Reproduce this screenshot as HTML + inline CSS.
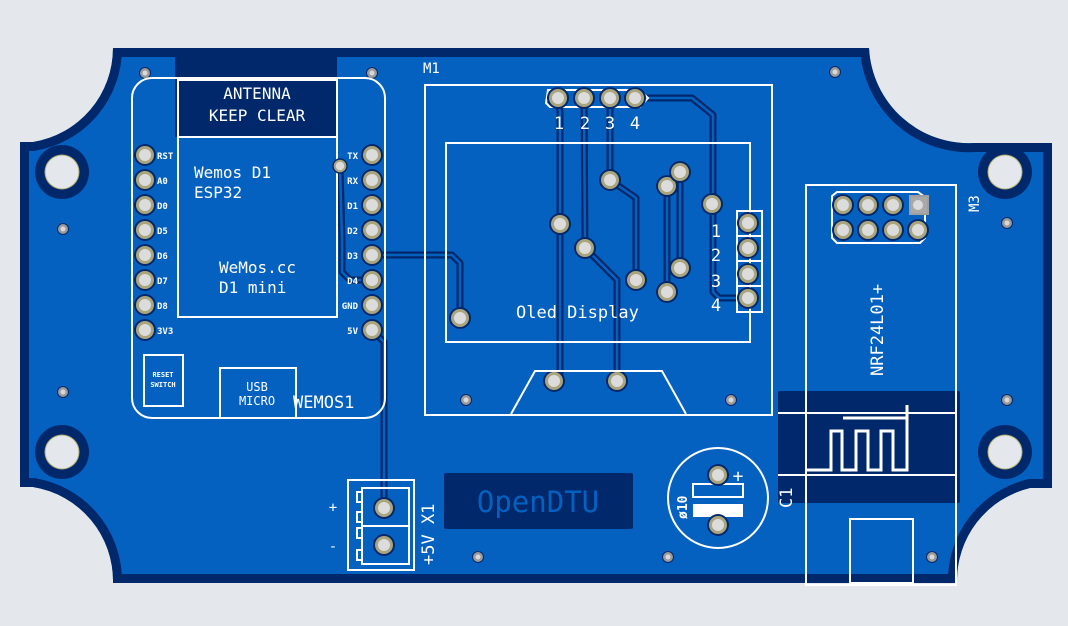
<!DOCTYPE html>
<html><head><meta charset="utf-8"><style>
html,body{margin:0;padding:0;background:#e4e7ec;}
svg{display:block;}
text{font-family:"DejaVu Sans Mono","Liberation Mono",monospace;fill:#fff;}
</style></head><body>
<svg width="1068" height="626" viewBox="0 0 1068 626" xmlns="http://www.w3.org/2000/svg">
<defs>
<path id="brd" d="M113,48 L869,48 A100,100 0 0 0 975,143 L1052,143 L1052,488 L1030,488 A95,95 0 0 0 957,583 L113,583 A95,95 0 0 0 33,487 L20,487 L20,142 L33,142 A95,95 0 0 0 113,48 Z"/>
<clipPath id="bc"><use href="#brd"/></clipPath>
<g id="pad"><circle r="11" fill="#00286a"/><circle r="9" fill="#aaa57c"/><circle r="6" fill="#dcdcdc"/></g>
<g id="via"><circle r="6" fill="#00286a"/><circle r="5" fill="#9a9a9a"/><circle r="2.5" fill="#d8d8d8"/></g>
<g id="hole"><circle r="27" fill="#00286a"/><circle r="17.5" fill="#b8b070"/><circle r="16.5" fill="#e4e7ec"/></g>
</defs>
<rect width="1068" height="626" fill="#e4e7ec"/>
<use href="#brd" fill="#0561c0"/>
<use href="#brd" fill="none" stroke="#00286a" stroke-width="18" clip-path="url(#bc)"/>
<rect x="175" y="55" width="162" height="82" fill="#00286a"/>
<rect x="778" y="391" width="182" height="112" rx="2" fill="#00286a"/>
<rect x="444" y="473" width="189" height="56" rx="2" fill="#00286a"/>
<text x="538" y="512" font-size="29" text-anchor="middle" style="fill:#0561c0" font-family="DejaVu Sans Mono">OpenDTU</text>
<use href="#hole" x="62" y="172"/><use href="#hole" x="62" y="452"/>
<use href="#hole" x="1005" y="172"/><use href="#hole" x="1005" y="452"/>
<g fill="none" stroke="#00286a" stroke-width="7" stroke-linejoin="round">
<path d="M372,255 L452,255 L460,263 L460,318"/>
<path d="M372,330 L384,342 L384,508"/>
<path d="M558,98 L560,112 L560,381 L554,385"/>
<path d="M584,98 L585,248 L617,280 L617,381"/>
<path d="M610,98 L610,180 L636,198 L636,280"/>
<path d="M635,98 L692,98 L713,115 L713,292 L719,298 L748,298"/>
<path d="M667,186 L667,292"/><path d="M680,172 L680,268"/>
<path d="M340,166 L342,240 L342,272 L350,280 L372,280"/>
</g>
<g fill="none" stroke="#0561c0" stroke-width="2.5" stroke-linejoin="round">
<path d="M372,255 L452,255 L460,263 L460,318"/>
<path d="M372,330 L384,342 L384,508"/>
<path d="M558,98 L560,112 L560,381 L554,385"/>
<path d="M584,98 L585,248 L617,280 L617,381"/>
<path d="M610,98 L610,180 L636,198 L636,280"/>
<path d="M635,98 L692,98 L713,115 L713,292 L719,298 L748,298"/>
<path d="M667,186 L667,292"/><path d="M680,172 L680,268"/>
<path d="M340,166 L342,240 L342,272 L350,280 L372,280"/>
</g>
<g>
<use href="#via" x="145" y="73"/><use href="#via" x="372" y="73"/>
<use href="#via" x="63" y="229"/><use href="#via" x="63" y="392"/>
<use href="#via" x="835" y="72"/><use href="#via" x="1007" y="223"/>
<use href="#via" x="1007" y="400"/><use href="#via" x="466" y="400"/>
<use href="#via" x="731" y="400"/><use href="#via" x="668" y="557"/>
<use href="#via" x="932" y="557"/><use href="#via" x="478" y="557"/>
<use href="#pad" x="460" y="318"/>
</g>
<g>
<use href="#pad" x="560" y="224"/><use href="#pad" x="554" y="381"/>
<use href="#pad" x="585" y="248"/><use href="#pad" x="617" y="381"/>
<use href="#pad" x="610" y="180"/><use href="#pad" x="636" y="280"/>
<use href="#pad" x="712" y="204"/>
<use href="#pad" x="667" y="186"/><use href="#pad" x="667" y="292"/>
<use href="#pad" x="680" y="172"/><use href="#pad" x="680" y="268"/>
</g>
<g fill="none" stroke="#fff" stroke-width="2">
<rect x="132" y="78" width="253" height="340" rx="20"/>
<rect x="178" y="80" width="159" height="57"/>
<rect x="178" y="137" width="159" height="180"/>
<rect x="144" y="355" width="39" height="51"/>
<rect x="220" y="368" width="76" height="50"/>
</g>
<g transform="translate(340,166) scale(0.7)"><use href="#pad"/></g>
<text x="257" y="99" font-size="16" text-anchor="middle" font-family="Liberation Sans">ANTENNA</text>
<text x="257" y="121" font-size="16" text-anchor="middle" font-family="Liberation Sans">KEEP CLEAR</text>
<text x="194" y="178" font-size="16">Wemos D1</text>
<text x="194" y="198" font-size="16">ESP32</text>
<text x="219" y="273" font-size="16">WeMos.cc</text>
<text x="219" y="293" font-size="16">D1 mini</text>
<text x="163" y="377" font-size="7" text-anchor="middle" font-weight="bold" font-family="Liberation Sans">RESET</text>
<text x="163" y="387" font-size="7" text-anchor="middle" font-weight="bold" font-family="Liberation Sans">SWITCH</text>
<text x="257" y="391" font-size="12" text-anchor="middle" font-family="Liberation Sans">USB</text>
<text x="257" y="405" font-size="12" text-anchor="middle" font-family="Liberation Sans">MICRO</text>
<text x="293" y="408" font-size="17" font-family="Liberation Sans">WEMOS1</text>
<g font-size="9" font-weight="bold" font-family="Liberation Sans">
<text x="157" y="159">RST</text><text x="157" y="184">A0</text><text x="157" y="209">D0</text><text x="157" y="234">D5</text>
<text x="157" y="259">D6</text><text x="157" y="284">D7</text><text x="157" y="309">D8</text><text x="157" y="334">3V3</text>
<text x="358" y="159" text-anchor="end">TX</text><text x="358" y="184" text-anchor="end">RX</text><text x="358" y="209" text-anchor="end">D1</text><text x="358" y="234" text-anchor="end">D2</text>
<text x="358" y="259" text-anchor="end">D3</text><text x="358" y="284" text-anchor="end">D4</text><text x="358" y="309" text-anchor="end">GND</text><text x="358" y="334" text-anchor="end">5V</text>
</g>
<g>
<use href="#pad" x="145" y="155"/><use href="#pad" x="145" y="180"/><use href="#pad" x="145" y="205"/><use href="#pad" x="145" y="230"/>
<use href="#pad" x="145" y="255"/><use href="#pad" x="145" y="280"/><use href="#pad" x="145" y="305"/><use href="#pad" x="145" y="330"/>
<use href="#pad" x="372" y="155"/><use href="#pad" x="372" y="180"/><use href="#pad" x="372" y="205"/><use href="#pad" x="372" y="230"/>
<use href="#pad" x="372" y="255"/><use href="#pad" x="372" y="280"/><use href="#pad" x="372" y="305"/><use href="#pad" x="372" y="330"/>
</g>
<g fill="none" stroke="#fff" stroke-width="2">
<rect x="425" y="85" width="347" height="330"/>
<rect x="446" y="143" width="304" height="199"/>
<path d="M511,414 L535,371 L662,371 L686,414"/>
<rect x="737" y="211" width="25" height="101"/>
<path d="M737,236 H762 M737,261 H762 M737,286 H762"/>
<path d="M548,90 L640,90 L648,98 L640,107 L550,107 L546,103 Z"/>
</g>
<use href="#pad" x="558" y="98"/><use href="#pad" x="584" y="98"/><use href="#pad" x="610" y="98"/><use href="#pad" x="635" y="98"/>
<use href="#pad" x="748" y="223"/><use href="#pad" x="748" y="248"/><use href="#pad" x="748" y="274"/><use href="#pad" x="748" y="298"/>
<text x="423" y="73" font-size="14" font-family="Liberation Sans">M1</text>
<g font-size="17" font-family="Liberation Sans" text-anchor="middle">
<text x="559" y="129">1</text><text x="585" y="129">2</text><text x="610" y="129">3</text><text x="635" y="129">4</text>
<text x="716" y="237">1</text><text x="716" y="261">2</text><text x="716" y="287">3</text><text x="716" y="311">4</text>
</g>
<text x="516" y="318" font-size="17">Oled Display</text>
<g fill="none" stroke="#fff" stroke-width="2">
<rect x="806" y="185" width="150" height="400"/>
<path d="M778,413 H956 M778,475 H956"/>
<path d="M805,470 L831,470 L831,431 L842,431 L842,470 L856,470 L856,431 L868,431 L868,470 L881,470 L881,431 L893,431 L893,470 L907,470 L907,405 M843,418 L906,418" stroke-width="3"/>
<rect x="850" y="519" width="63" height="64"/>
<path d="M832,196 L837,192 L918,192 L925,197 L925,238 L920,243 L837,243 L832,238 Z"/>
</g>
<g>
<use href="#pad" x="843" y="205"/><use href="#pad" x="868" y="205"/><use href="#pad" x="893" y="205"/>
<rect x="909" y="195" width="20" height="20" fill="#9f9f9f"/><rect x="911" y="197" width="16" height="16" fill="#a9a9a9"/><circle cx="918" cy="205" r="5" fill="#dcdcdc"/>
<use href="#pad" x="843" y="230"/><use href="#pad" x="868" y="230"/><use href="#pad" x="893" y="230"/><use href="#pad" x="918" y="230"/>
</g>
<text transform="translate(883,376) rotate(-90)" font-size="17" font-family="Liberation Sans">NRF24L01+</text>
<text transform="translate(979,212) rotate(-90)" font-size="14" font-family="Liberation Sans">M3</text>
<circle cx="718" cy="498" r="50" fill="none" stroke="#fff" stroke-width="2"/>
<rect x="693" y="484" width="50" height="13" fill="none" stroke="#fff" stroke-width="2"/>
<rect x="693" y="504" width="50" height="13" fill="#fff"/>
<use href="#pad" x="718" y="475"/><use href="#pad" x="718" y="525"/>
<text x="738" y="482" font-size="18" text-anchor="middle" font-family="Liberation Sans">+</text>
<text transform="translate(687,519) rotate(-90)" font-size="13" font-weight="bold">ø10</text>
<text transform="translate(792,508) rotate(-90)" font-size="17" font-family="Liberation Sans">C1</text>
<g fill="none" stroke="#fff" stroke-width="2">
<rect x="348" y="480" width="66" height="90"/>
<path d="M362,488 L409,488 L409,526 L362,526 Z M362,526 L409,526 L409,564 L362,564 Z"/>
<path d="M362,492 h-5 v10 h5 M362,528 h-5 v10 h5 M362,512 h-5 v10 h5 M362,550 h-5 v10 h5"/>
</g>
<use href="#pad" x="384" y="508"/><use href="#pad" x="384" y="545"/>
<text x="333" y="512" font-size="14" text-anchor="middle" font-family="Liberation Sans">+</text>
<text x="333" y="551" font-size="14" text-anchor="middle" font-family="Liberation Sans">-</text>
<text transform="translate(434,565) rotate(-90)" font-size="17" font-family="Liberation Sans">+5V X1</text>
</svg>
</body></html>
